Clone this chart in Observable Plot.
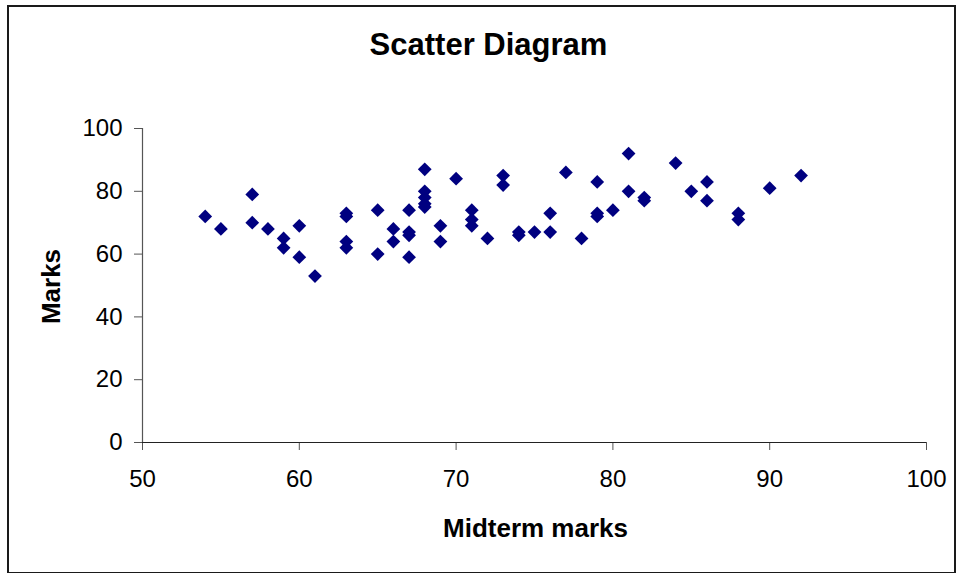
<!DOCTYPE html>
<html>
<head>
<meta charset="utf-8">
<script src="https://cdn.jsdelivr.net/npm/d3@7"></script>
<script src="https://cdn.jsdelivr.net/npm/@observablehq/plot@0.6"></script>
<style>
  html, body { margin: 0; padding: 0; background: #fff; }
  #wrap { position: relative; width: 956px; height: 573px; overflow: hidden; }
  #border { position: absolute; left: 7px; top: 5px; width: 945px; height: 565px; border: 2px solid #1a1a1a; box-sizing: content-box; pointer-events: none; }
  svg { font-family: "Liberation Sans", Arial, sans-serif; }
</style>
</head>
<body>
<div id="wrap"><div id="border"></div></div>
<script>
// Data
const midterm = [54, 55, 57, 57, 58, 59, 59, 60, 60, 61, 63, 63, 63, 63, 65, 65, 66, 66, 67, 67, 67, 67, 68, 68, 68, 68, 68, 69, 69, 70, 71, 71, 71, 72, 73, 73, 74, 74, 75, 76, 76, 77, 78, 79, 79, 79, 80, 81, 81, 82, 82, 84, 85, 86, 86, 88, 88, 90, 92];
const marks   = [72, 68, 79, 70, 68, 65, 62, 69, 59, 53, 73, 72, 64, 62, 74, 60, 68, 64, 74, 67, 66, 59, 87, 80, 78, 76, 75, 69, 64, 84, 74, 71, 69, 65, 85, 82, 67, 66, 67, 73, 67, 86, 65, 83, 73, 72, 74, 92, 80, 78, 77, 89, 80, 83, 77, 73, 71, 81, 85];
const xTicks = [50, 60, 70, 80, 90, 100];
const yTicks = [0, 20, 40, 60, 80, 100];
const titleText = "Scatter Diagram";
const xLabel = "Midterm marks";
const yLabel = "Marks";

const data = midterm.map((m, i) => ({midterm: m, marks: marks[i]}));

const chart = Plot.plot({
  width: 956,
  height: 573,
  marginLeft: 142,
  marginRight: 30,
  marginTop: 128,
  marginBottom: 131,
  style: {fontFamily: "'Liberation Sans', Arial, sans-serif", background: "transparent", overflow: "visible"},
  x: {domain: [50, 100], ticks: xTicks, label: null},
  y: {domain: [0, 100], ticks: yTicks, label: null},
  marks: [
    Plot.axisY({ticks: yTicks, tickSize: 8, tickPadding: 12, fontSize: 24, stroke: "#555", fill: "#000", label: null}),
    Plot.axisX({ticks: xTicks, tickSize: 8, tickPadding: 19, fontSize: 24, stroke: "#555", fill: "#000", label: null}),
    Plot.ruleX([50], {stroke: "#555", strokeWidth: 1.2}),
    Plot.ruleY([0], {stroke: "#222", strokeWidth: 1.2}),
    Plot.dot(data, {x: "midterm", y: "marks", symbol: "diamond2", r: 6.2, fill: "#000080", stroke: "none"}),
    Plot.text([titleText], {text: d => d, frameAnchor: "top", textAnchor: "middle", lineAnchor: "middle", dx: -46, dy: -83, fontSize: 31, fontWeight: "bold", fill: "#000"}),
    Plot.text([xLabel], {text: d => d, frameAnchor: "bottom", textAnchor: "middle", lineAnchor: "middle", dx: 1, dy: 86, fontSize: 26, fontWeight: "bold", fill: "#000"}),
    Plot.text([yLabel], {text: d => d, frameAnchor: "left", textAnchor: "middle", lineAnchor: "middle", rotate: -90, dx: -91, dy: 1, fontSize: 26, fontWeight: "bold", fill: "#000"})
  ]
});
document.getElementById("wrap").prepend(chart);
</script>
</body>
</html>
